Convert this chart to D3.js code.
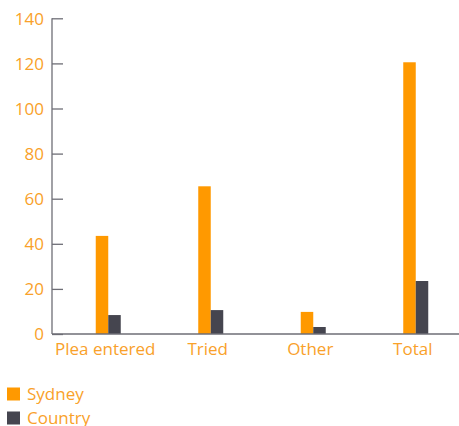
<!DOCTYPE html>
<html><head><meta charset="utf-8">
<script src="https://cdn.jsdelivr.net/npm/d3@7"></script>
<style>
html,body{margin:0;padding:0;background:#fff;}
svg{display:block;font-family:"Open Sans",sans-serif;}
</style></head>
<body><svg id="c" width="459" height="426"></svg>
<script>
const categories = ["Plea entered","Tried","Other","Total"];
const sydney = [43.5, 65.5, 9.8, 120.5];
const country = [8.4, 10.6, 3.1, 23.5];
const seriesNames = ["Sydney","Country"];
const yTicks = [0,20,40,60,80,100,120,140];

const colors = {Sydney:"#ff9900", Country:"#45454f"};
const textColor = "#f9a12a";
const axisColor = "#6e6e76";

const svg = d3.select("#c");
const y = d3.scaleLinear().domain([0,140]).range([334,18.3]);
const x = d3.scaleBand().domain(categories).range([57,467]).padding(0);
const barW = 12.5;

// y axis
const yAxis = d3.axisRight(y).tickValues(yTicks).tickSize(11).tickFormat(d=>d);
const gy = svg.append("g").attr("transform","translate(52,0)").call(yAxis);
gy.select(".domain").attr("stroke",axisColor).attr("stroke-width",1.3).attr("d","M0,"+y(140)+"V"+y(0));
gy.selectAll(".tick line").attr("stroke",axisColor).attr("stroke-width",1.3);
gy.selectAll(".tick text").attr("x",-8).attr("text-anchor","end").attr("fill",textColor)
  .attr("font-size",17).attr("font-family","Open Sans").attr("dy","0.34em");

// bars
const data = categories.map((c,i)=>({c, vals:[{k:"Sydney",v:sydney[i]},{k:"Country",v:country[i]}]}));
const g = svg.append("g");
data.forEach(d=>{
  const cx = x(d.c)+x.bandwidth()/2;
  d.vals.forEach((s,j)=>{
    g.append("rect").attr("x",cx-barW+j*barW).attr("width",barW)
     .attr("y",y(s.v)).attr("height",y(0)-y(s.v)).attr("fill",colors[s.k]);
  });
});

// baseline
svg.append("line").attr("x1",52).attr("x2",459).attr("y1",y(0)).attr("y2",y(0))
  .attr("stroke",axisColor).attr("stroke-width",1.3);

// x labels
const xl = [105,208,313.5,416.5];
svg.append("g").selectAll("text").data(categories).join("text")
  .attr("x",d=>x(d)+x.bandwidth()/2-3).attr("y",355)
  .attr("text-anchor","middle").attr("fill",textColor).attr("font-size",17).text(d=>d);

// legend
const lg = svg.append("g").selectAll("g").data(seriesNames).join("g")
  .attr("transform",(d,i)=>`translate(7,${387.5+i*24})`);
lg.append("rect").attr("width",13).attr("height",13).attr("fill",d=>colors[d]);
lg.append("text").attr("x",20).attr("y",12.5).attr("fill",textColor).attr("font-size",17).text(d=>d);
</script></body></html>
